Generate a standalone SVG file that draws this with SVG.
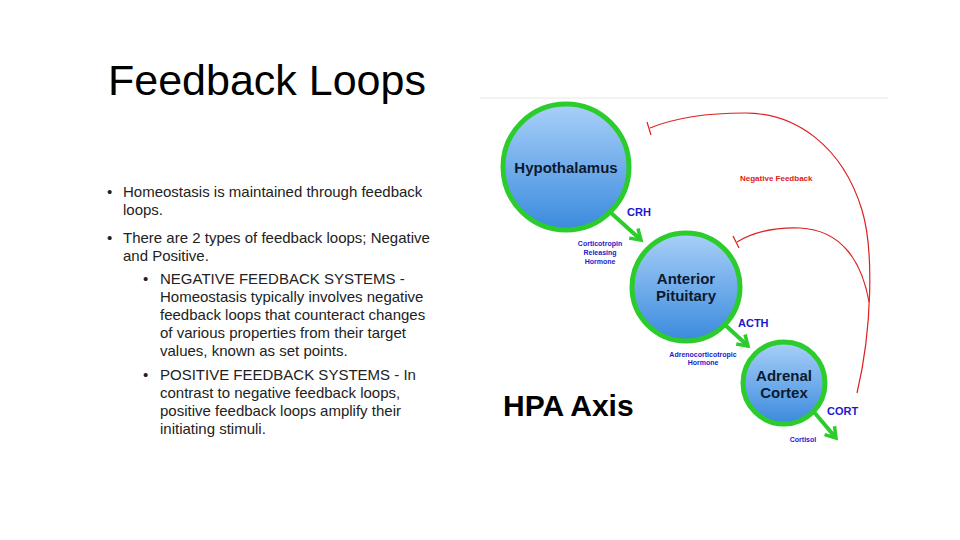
<svg xmlns="http://www.w3.org/2000/svg" width="960" height="540" viewBox="0 0 960 540">
<defs>
<linearGradient id="blue" x1="0" y1="0" x2="0" y2="1">
<stop offset="0" stop-color="#a9d0f8"/>
<stop offset="1" stop-color="#3a8ade"/>
</linearGradient>
<marker id="arr" viewBox="0 0 16 16" refX="12" refY="8" markerWidth="16" markerHeight="16" markerUnits="userSpaceOnUse" orient="auto">
<path d="M2,1.5 L12,8 L2,14.5" fill="none" stroke="#2ccc2c" stroke-width="3.5" stroke-linejoin="miter"/>
</marker>
</defs>
<style>
text{font-family:"Liberation Sans",Arial,sans-serif}
.title{font-size:43px;fill:#000}
.body{font-size:15px;fill:#222}
.node circle{fill:url(#blue);stroke:#2ccc2c;stroke-width:5}
.nt{font-size:15px;font-weight:bold;fill:#0c1a30;text-anchor:middle}
.hl{font-size:11px;font-weight:bold;fill:#1a1acc}
.sl{font-size:7px;font-weight:bold;fill:#1a1acc;text-anchor:middle}
.green{stroke:#2ccc2c;stroke-width:4;fill:none}
.red{stroke:#dd2020;stroke-width:1.2;fill:none}
.nf{font-size:8px;font-weight:bold;fill:#dd2020}
</style>
<rect width="960" height="540" fill="#fff"/>
<text class="title" x="108" y="95">Feedback Loops</text>
<g class="body">
<text x="107" y="197">•</text>
<text x="123" y="197">Homeostasis is maintained through feedback</text>
<text x="123" y="215">loops.</text>
<text x="107" y="243">•</text>
<text x="123" y="243">There are 2 types of feedback loops; Negative</text>
<text x="123" y="261">and Positive.</text>
<text x="143" y="284">•</text>
<text x="160" y="284">NEGATIVE FEEDBACK SYSTEMS -</text>
<text x="160" y="302">Homeostasis typically involves negative</text>
<text x="160" y="320">feedback loops that counteract changes</text>
<text x="160" y="338">of various properties from their target</text>
<text x="160" y="356">values, known as set points.</text>
<text x="143" y="380">•</text>
<text x="160" y="380">POSITIVE FEEDBACK SYSTEMS - In</text>
<text x="160" y="398">contrast to negative feedback loops,</text>
<text x="160" y="416">positive feedback loops amplify their</text>
<text x="160" y="434">initiating stimuli.</text>
</g>
<line x1="480" y1="98" x2="888" y2="98" stroke="#e6e6e6" stroke-width="1"/>
<g id="connectors">
<line class="green" x1="610" y1="212" x2="641" y2="240" marker-end="url(#arr)"/>
<line class="green" x1="723" y1="323" x2="748" y2="346" marker-end="url(#arr)"/>
<line class="green" x1="814" y1="412" x2="836" y2="438" marker-end="url(#arr)"/>
<path class="red" d="M857,393 C872,330 874,250 862,210 C842,145 795,113 745,113 C705,113 672,119 650,128"/>
<line class="red" x1="647" y1="122" x2="651" y2="135"/>
<path class="red" d="M869,302 C862,262 842,230 800,228 C770,227 752,233 737,242"/>
<line class="red" x1="733" y1="236" x2="739" y2="248"/>
</g>
<text class="nf" x="740" y="181">Negative Feedback</text>
<g id="hypothalamus" class="node">
<circle cx="566" cy="167" r="63"/>
<text class="nt" x="566" y="173">Hypothalamus</text>
</g>
<g id="pituitary" class="node">
<circle cx="686" cy="287" r="54"/>
<text class="nt" x="686" y="284">Anterior</text>
<text class="nt" x="686" y="301">Pituitary</text>
</g>
<g id="adrenal" class="node">
<circle cx="784" cy="383" r="41"/>
<text class="nt" x="784" y="381">Adrenal</text>
<text class="nt" x="784" y="398">Cortex</text>
</g>
<text class="hl" x="627" y="216">CRH</text>
<text class="sl" x="600" y="246">Corticotropin</text>
<text class="sl" x="600" y="255">Releasing</text>
<text class="sl" x="600" y="264">Hormone</text>
<text class="hl" x="738" y="327">ACTH</text>
<text class="sl" x="703" y="357">Adrenocorticotropic</text>
<text class="sl" x="703" y="365">Hormone</text>
<text class="hl" x="827" y="415">CORT</text>
<text class="sl" x="803" y="442">Cortisol</text>
<text x="503" y="416" style="font-size:30px;font-weight:bold;fill:#000">HPA Axis</text>
</svg>
